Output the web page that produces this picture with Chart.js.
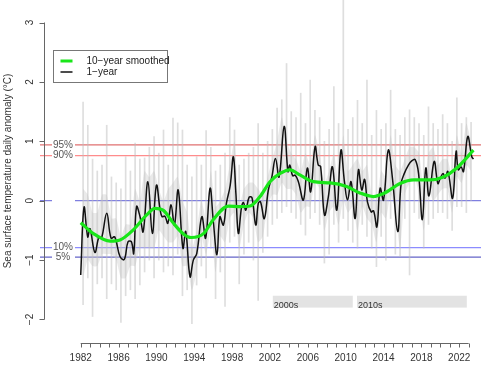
<!DOCTYPE html>
<html>
<head>
<meta charset="utf-8">
<script src="https://cdn.jsdelivr.net/npm/chart.js@4"></script>
<style>
  html, body { margin: 0; padding: 0; background: #fff; }
  #wrap { width: 500px; height: 371px; }
</style>
</head>
<body>
<div id="wrap"><canvas id="sst" width="500" height="371"></canvas></div>
<script>
// 1-year running mean (black)
const blackYears = [1982.0, 1982.35, 1982.74, 1982.98, 1983.5, 1983.93, 1984.2, 1984.75, 1985.2, 1985.6,
  1986.15, 1986.6, 1987.0, 1987.35, 1987.6, 1987.9, 1988.27, 1988.6, 1989.1, 1989.57,
  1990.0, 1990.4, 1990.6, 1990.9, 1991.2, 1991.55, 1991.9, 1992.3, 1992.8, 1993.1,
  1993.55, 1993.9, 1994.26, 1994.8, 1995.2, 1995.67, 1996.0, 1996.4, 1996.7, 1997.07,
  1997.4, 1997.8, 1998.13, 1998.4, 1998.66, 1999.0, 1999.2, 1999.44, 1999.8, 2000.1,
  2000.5, 2000.77, 2001.0, 2001.4, 2001.83, 2002.2, 2002.58, 2002.96, 2003.5, 2003.9,
  2004.1, 2004.4, 2004.67, 2005.0, 2005.53, 2005.95, 2006.3, 2006.77, 2007.1, 2007.35,
  2007.76, 2008.17, 2008.6, 2009.06, 2009.5, 2009.87, 2010.2, 2010.57, 2011.0, 2011.35,
  2011.7, 2012.0, 2012.3, 2012.7, 2012.95, 2013.3, 2013.64, 2014.0, 2014.5, 2014.94,
  2015.5, 2015.86, 2016.2, 2016.63, 2016.98, 2017.34, 2017.7, 2018.1, 2018.47, 2018.8,
  2019.35, 2019.74, 2020.0, 2020.3, 2020.5, 2020.8, 2021.3, 2021.67, 2021.9, 2022.2,
  2022.45, 2022.9, 2023.33, 2023.5];
const blackValues = [-1.25, -0.11, -0.61, -0.47, -0.87, -0.61, -0.63, -0.21, -0.63, -0.61,
  -0.94, -0.99, -0.69, -0.69, -0.89, -0.10, -0.27, -0.52, 0.32, -0.55,
  0.26, -0.16, -0.27, -0.26, -0.38, -0.07, -0.41, 0.18, -0.80, -0.52,
  -1.28, -1.00, -0.89, -0.27, -0.63, 0.21, -0.32, -0.91, -0.27, -0.41,
  -0.04, 0.26, 0.74, 0.12, -0.55, -0.10, -0.03, -0.16, 0.06, 0.05,
  -0.41, -0.04, -0.02, -0.30, 0.18, 0.40, 0.71, 0.40, 1.25, 0.49,
  0.60, 0.42, 0.43, 0.32, 0.01, 0.55, 0.15, 0.91, 0.60, 0.58,
  -0.24, 0.07, 0.57, -0.16, 0.85, 0.32, 0.01, 0.32, -0.30, 0.52,
  0.18, 0.36, -0.02, -0.19, -0.17, -0.44, 0.21, 0.01, 0.85, 0.38,
  -0.52, 0.29, 0.46, 0.60, 0.67, 0.69, 0.46, -0.32, 0.55, 0.08,
  0.66, 0.29, 0.38, 0.46, 0.38, 0.49, 0.04, 0.83, 0.52, 0.57,
  0.49, 1.08, 0.74, 0.70];

// 10-year smoothed (green)
const greenYears = [1982.0, 1983.3, 1985.1, 1986.15, 1987.56, 1988.97, 1989.85, 1990.7, 1991.8, 1992.85,
  1993.7, 1995.0, 1996.0, 1997.6, 1998.8, 1999.9, 2000.95, 2002.0, 2003.07, 2004.1,
  2005.2, 2006.6, 2008.35, 2010.1, 2011.5, 2012.93, 2014.0, 2015.75, 2017.16, 2018.9,
  2020.33, 2021.75, 2023.5];
const greenValues = [-0.37, -0.55, -0.68, -0.66, -0.49, -0.24, -0.13, -0.16, -0.38, -0.56,
  -0.62, -0.55, -0.32, -0.09, -0.10, -0.09, 0.07, 0.32, 0.46, 0.52,
  0.43, 0.32, 0.30, 0.24, 0.13, 0.07, 0.12, 0.29, 0.35, 0.35,
  0.40, 0.55, 0.85];

// daily anomalies (grey), half-year extremes and the dense core range
const dailyYears = [1982.25, 1982.75, 1983.25, 1983.75, 1984.25, 1984.75, 1985.25, 1985.75, 1986.25, 1986.75,
  1987.25, 1987.75, 1988.25, 1988.75, 1989.25, 1989.75, 1990.25, 1990.75, 1991.25, 1991.75,
  1992.25, 1992.75, 1993.25, 1993.75, 1994.25, 1994.75, 1995.25, 1995.75, 1996.25, 1996.75,
  1997.25, 1997.75, 1998.25, 1998.75, 1999.25, 1999.75, 2000.25, 2000.75, 2001.25, 2001.75,
  2002.25, 2002.75, 2003.25, 2003.75, 2004.25, 2004.75, 2005.25, 2005.75, 2006.25, 2006.75,
  2007.25, 2007.75, 2008.25, 2008.75, 2009.25, 2009.75, 2010.25, 2010.75, 2011.25, 2011.75,
  2012.25, 2012.75, 2013.25, 2013.75, 2014.25, 2014.75, 2015.25, 2015.75, 2016.25, 2016.75,
  2017.25, 2017.75, 2018.25, 2018.75, 2019.25, 2019.75, 2020.25, 2020.75, 2021.25, 2021.75,
  2022.25, 2022.75, 2023.25];
const dailyMax = [1.66, 1.27, 0.70, 0.50, 0.60, 1.27, 0.40, 0.30, 0.20, 0.74,
  0.50, 0.97, 0.70, 0.72, 0.90, 1.08, 0.80, 1.19, 0.60, 1.39,
  1.31, 1.19, 0.60, 0.40, 0.74, 0.60, 1.18, 0.90, 0.50, 0.60,
  0.80, 1.40, 1.19, 0.60, 0.70, 0.80, 0.90, 1.30, 0.80, 1.00,
  1.20, 1.56, 1.70, 2.31, 1.50, 1.40, 1.81, 1.30, 2.03, 1.52,
  1.40, 1.00, 1.20, 1.92, 1.30, 3.38, 1.20, 1.40, 1.69, 1.30,
  2.03, 1.10, 1.52, 1.20, 1.30, 1.86, 1.20, 1.10, 1.40, 1.53,
  1.40, 1.30, 1.10, 1.58, 1.30, 1.20, 1.45, 1.30, 1.00, 1.73,
  1.30, 1.40, 1.32];
const dailyMin = [-1.75, -1.30, -1.95, -1.40, -1.30, -1.65, -1.40, -1.50, -2.05, -1.60,
  -1.50, -1.65, -1.42, -1.20, -1.00, -1.30, -1.00, -1.20, -1.10, -1.25,
  -0.90, -1.60, -1.50, -2.07, -1.42, -1.10, -1.30, -0.80, -1.65, -1.20,
  -1.78, -0.70, -0.60, -1.40, -0.90, -0.70, -1.00, -1.68, -0.87, -0.60,
  -0.40, -0.30, -0.20, -0.10, -0.20, -0.30, -0.40, -0.58, -0.30, -0.20,
  -0.40, -1.05, -0.90, -0.40, -0.70, -0.30, -0.50, -0.70, -0.80, -0.40,
  -0.60, -0.80, -1.11, -0.60, -1.00, -0.30, -0.90, -0.94, -0.30, -1.25,
  -0.20, -0.30, -0.80, -0.40, -0.30, -0.20, -0.20, -0.30, -0.50, -0.10,
  -0.10, -0.20, 0.00];
const coreHigh = [0.2, 0.1, -0.2, -0.2, 0.1, 0.1, -0.3, -0.3, -0.6, -0.4,
  -0.4, 0.2, 0.0, 0.5, 0.4, 0.5, 0.2, 0.0, 0.2, 0.3,
  0.4, 0.0, -0.2, -0.8, -0.5, 0.0, -0.3, 0.5, -0.1, 0.0,
  0.2, 0.6, 1.0, -0.1, 0.2, 0.3, 0.3, 0.2, 0.1, 0.4,
  0.7, 1.0, 1.4, 1.0, 0.8, 0.7, 0.5, 0.8, 0.6, 1.1,
  0.8, 0.3, 0.5, 0.8, 0.3, 1.1, 0.5, 0.6, 0.7, 0.5,
  0.6, 0.1, 0.0, 0.5, 0.4, 1.1, 0.6, 0.5, 0.7, 0.9,
  0.9, 0.8, 0.2, 0.8, 0.9, 0.6, 0.7, 0.7, 0.4, 1.1,
  0.8, 1.3, 1.0];
const coreLow = [-1.3, -1.0, -1.1, -1.1, -0.9, -0.9, -0.9, -1.0, -1.3, -1.3,
  -1.1, -1.1, -0.8, -0.8, -0.8, -0.8, -0.5, -0.6, -0.7, -0.7,
  -0.6, -1.1, -1.1, -1.5, -1.2, -0.6, -0.9, -0.5, -1.2, -0.6,
  -0.7, -0.3, -0.2, -0.8, -0.4, -0.2, -0.3, -0.7, -0.6, -0.1,
  0.1, 0.1, 0.3, 0.2, 0.2, 0.1, -0.2, -0.1, -0.1, 0.3,
  0.2, -0.5, -0.2, -0.1, -0.4, 0.0, -0.2, -0.1, -0.5, -0.1,
  -0.3, -0.4, -0.7, -0.2, -0.3, 0.1, -0.2, -0.8, 0.1, 0.3,
  0.4, 0.1, -0.5, 0.2, 0.0, 0.1, 0.2, 0.2, -0.2, 0.4,
  0.3, 0.6, 0.5];

// axis ticks and reference lines
const yTicks = [-2, -1, 0, 1, 2, 3];
const xTickYears = [];
for (let y = 1982; y <= 2023; y++) xTickYears.push(y);
const xLabelYears = [1982, 1986, 1990, 1994, 1998, 2002, 2006, 2010, 2014, 2018, 2022];
const pctValues = [0.94, 0.76, 0, -0.79, -0.95];
const pctLabels = ['95%', '90%', '', '10%', '5%'];
const pctColors = ['#e07070', '#ff8c8c', '#7f7fe0', '#8c8cff', '#6464c8'];
const decadeLabels = ['2000s', '2010s'];
const decadeStart = [2002.3, 2011.2];
const decadeEnd = [2010.75, 2022.8];
const decadeTop = -1.60;
const decadeBottom = -1.80;

const FONT = '"Liberation Sans", Arial, sans-serif';
const MINUS = '\u2212';

function pairs(xs, ys) {
  return xs.map((x, i) => ({ x: x, y: ys[i] }));
}

const rPlotPlugin = {
  id: 'rPlot',
  beforeDatasetsDraw(chart) {
    const ctx = chart.ctx;
    const xs = chart.scales.x;
    const ys = chart.scales.y;
    const area = chart.chartArea;
    ctx.save();

    // decade boxes
    decadeLabels.forEach((lab, i) => {
      const x0 = xs.getPixelForValue(decadeStart[i]);
      const x1 = xs.getPixelForValue(decadeEnd[i]);
      const y0 = ys.getPixelForValue(decadeTop);
      const y1 = ys.getPixelForValue(decadeBottom);
      ctx.fillStyle = '#e3e3e3';
      ctx.fillRect(x0, y0, x1 - x0, y1 - y0);
      ctx.fillStyle = '#333';
      ctx.font = '9px ' + FONT;
      ctx.textAlign = 'left';
      ctx.textBaseline = 'middle';
      ctx.fillText(lab, x0 + 1, y1 - 2);
    });

    // percentile lines with their labels (soft, not pixel-snapped)
    pctValues.forEach((v, i) => {
      const y = ys.getPixelForValue(v);
      ctx.strokeStyle = pctColors[i];
      ctx.lineWidth = 1.2;
      ctx.beginPath();
      ctx.moveTo(area.left - 4, y);
      ctx.lineTo(area.right, y);
      ctx.stroke();
      ctx.fillStyle = '#fff';
      ctx.fillRect(area.left + 8, y - 4, 23, 8);
      if (pctLabels[i]) {
        ctx.fillStyle = '#555';
        ctx.font = '10px ' + FONT;
        ctx.textAlign = 'center';
        ctx.textBaseline = 'middle';
        ctx.fillText(pctLabels[i], area.left + 19, y);
      }
    });
    ctx.restore();
  },
  afterDraw(chart) {
    const ctx = chart.ctx;
    const xs = chart.scales.x;
    const ys = chart.scales.y;
    const area = chart.chartArea;
    ctx.save();
    ctx.strokeStyle = '#666';
    ctx.lineWidth = 1;
    ctx.fillStyle = '#333';
    ctx.font = '10px ' + FONT;

    // y axis
    const ax = area.left + 0.5;
    ctx.beginPath();
    ctx.moveTo(ax, ys.getPixelForValue(yTicks[0]));
    ctx.lineTo(ax, ys.getPixelForValue(yTicks[yTicks.length - 1]));
    yTicks.forEach(t => {
      const y = Math.round(ys.getPixelForValue(t)) + 0.5;
      ctx.moveTo(ax, y);
      ctx.lineTo(ax - 5, y);
    });
    ctx.stroke();
    yTicks.forEach(t => {
      const y = ys.getPixelForValue(t);
      ctx.save();
      ctx.translate(area.left - 14, y);
      ctx.rotate(-Math.PI / 2);
      ctx.textAlign = 'center';
      ctx.textBaseline = 'middle';
      ctx.fillText(String(t).replace('-', MINUS), 0, 0);
      ctx.restore();
    });

    // y title
    ctx.save();
    ctx.translate(8, ys.getPixelForValue(0.5));
    ctx.rotate(-Math.PI / 2);
    ctx.textAlign = 'center';
    ctx.textBaseline = 'middle';
    ctx.fillText('Sea surface temperature daily anomaly (\u00b0C)', 0, 0);
    ctx.restore();

    // x axis, below the plot region
    const axY = area.bottom + 7.5;
    ctx.beginPath();
    ctx.moveTo(xs.getPixelForValue(xTickYears[0]), axY);
    ctx.lineTo(xs.getPixelForValue(xTickYears[xTickYears.length - 1]), axY);
    xTickYears.forEach(t => {
      const x = Math.round(xs.getPixelForValue(t)) + 0.5;
      ctx.moveTo(x, axY);
      ctx.lineTo(x, axY + 4);
    });
    ctx.stroke();
    ctx.textAlign = 'center';
    ctx.textBaseline = 'middle';
    xLabelYears.forEach(t => {
      ctx.fillText(String(t), xs.getPixelForValue(t), axY + 15);
    });

    // legend
    const lx = area.left + 9.5, ly = 50.5, lw = 114, lh = 32;
    ctx.fillStyle = '#fff';
    ctx.fillRect(lx, ly, lw, lh);
    ctx.strokeStyle = '#777';
    ctx.strokeRect(lx, ly, lw, lh);
    const items = [
      { label: '10' + MINUS + 'year smoothed', color: '#19e619', width: 3 },
      { label: '1' + MINUS + 'year', color: '#111', width: 1.5 }
    ];
    items.forEach((it, i) => {
      const y = ly + 10.5 + i * 11;
      ctx.strokeStyle = it.color;
      ctx.lineWidth = it.width;
      ctx.beginPath();
      ctx.moveTo(lx + 7, y);
      ctx.lineTo(lx + 19, y);
      ctx.stroke();
      ctx.fillStyle = '#222';
      ctx.textAlign = 'left';
      ctx.fillText(it.label, lx + 33, y);
    });
    ctx.restore();
  }
};

new Chart(document.getElementById('sst'), {
  type: 'bar',
  data: {
    datasets: [
      {
        type: 'line',
        label: 'core low',
        data: pairs(dailyYears, coreLow),
        borderWidth: 0,
        pointRadius: 0,
        tension: 0.2,
        fill: false,
        order: 5
      },
      {
        type: 'line',
        label: 'core high',
        data: pairs(dailyYears, coreHigh),
        borderWidth: 0,
        pointRadius: 0,
        tension: 0.2,
        backgroundColor: 'rgba(200,200,200,0.38)',
        fill: '-1',
        order: 4
      },
      {
        type: 'bar',
        label: 'daily',
        data: dailyYears.map((x, i) => ({ x: x, y: [dailyMin[i], dailyMax[i]] })),
        backgroundColor: 'rgba(190,190,190,0.5)',
        borderWidth: 0,
        barThickness: 1,
        order: 3
      },
      {
        type: 'line',
        label: '1-year',
        data: pairs(blackYears, blackValues),
        borderColor: '#111',
        borderWidth: 1.5,
        pointRadius: 0,
        tension: 0.4,
        fill: false,
        order: 1
      },
      {
        type: 'line',
        label: '10-year smoothed',
        data: pairs(greenYears, greenValues),
        borderColor: '#19e619',
        borderWidth: 3.2,
        pointRadius: 0,
        cubicInterpolationMode: 'monotone',
        fill: false,
        order: 0
      }
    ]
  },
  options: {
    responsive: false,
    animation: false,
    devicePixelRatio: 1,
    layout: { padding: { left: 44, right: 19, top: 0, bottom: 35 } },
    plugins: { legend: { display: false }, tooltip: { enabled: false } },
    scales: {
      x: { type: 'linear', min: 1978.12, max: 2024.3, offset: false, display: false },
      y: { type: 'linear', min: -2.278, max: 3.379, display: false }
    }
  },
  plugins: [rPlotPlugin]
});
</script>
</body>
</html>
